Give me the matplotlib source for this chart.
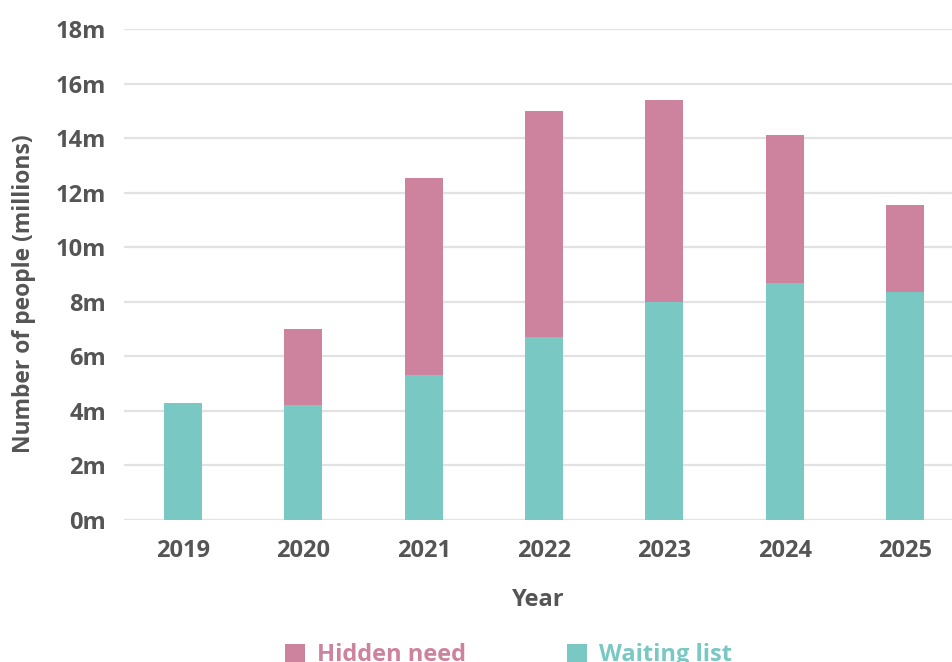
import matplotlib.pyplot as plt
import numpy as np

years = ["2019", "2020", "2021", "2022", "2023", "2024", "2025"]
waiting_list = [4.3, 4.2, 5.3, 6.7, 8.0, 8.7, 8.35]
hidden_need = [0.0, 2.8, 7.25, 8.3, 7.4, 5.4, 3.2]
yticks = [0, 2, 4, 6, 8, 10, 12, 14, 16, 18]

teal = "#79C8C3"
pink = "#CD839D"
text_col = "#555555"

plt.rcParams["font.family"] = ["Open Sans", "DejaVu Sans"]
plt.rcParams["font.weight"] = "bold"

fig = plt.figure(figsize=(9.52, 6.62), dpi=100)
ax = fig.add_axes([124 / 952, 1 - 520 / 662, 1 - 124 / 952, (520 - 29) / 662])

x = np.arange(len(years))
ax.bar(x, waiting_list, width=0.316, color=teal, label="Waiting list", zorder=3)
ax.bar(x, hidden_need, width=0.316, bottom=waiting_list, color=pink, label="Hidden need", zorder=3)

ax.set_xlim(-0.49, 6.39)
ax.set_ylim(0, 18)
ax.set_yticks(yticks)
ax.set_yticklabels([f"{v}m" for v in yticks])
ax.set_xticks(x)
ax.set_xticklabels(years)
ax.tick_params(axis="both", length=0, labelsize=17, colors=text_col)
ax.tick_params(axis="y", pad=13)
ax.tick_params(axis="x", pad=14)
for s in ax.spines.values():
    s.set_visible(False)
ax.yaxis.grid(True, color="#e2e2e2", linewidth=1.6, zorder=0)
ax.set_axisbelow(True)

ax.set_xlabel("Year", fontsize=17, fontweight="bold", color=text_col, labelpad=18)
ax.set_ylabel("Number of people (millions)", fontsize=16.5, fontweight="bold", color=text_col)
ax.yaxis.set_label_coords(-0.106, 0.461)

h, l = ax.get_legend_handles_labels()
leg = fig.legend(h[::-1], l[::-1], loc="lower center", bbox_to_anchor=(0.534, -0.04), ncol=2,
                 frameon=False, fontsize=17, handlelength=0.85, handleheight=0.85,
                 columnspacing=4.3, handletextpad=0.5)
for t, c in zip(leg.get_texts(), [pink, teal]):
    t.set_color(c)

fig.savefig("out.png", dpi=100)
